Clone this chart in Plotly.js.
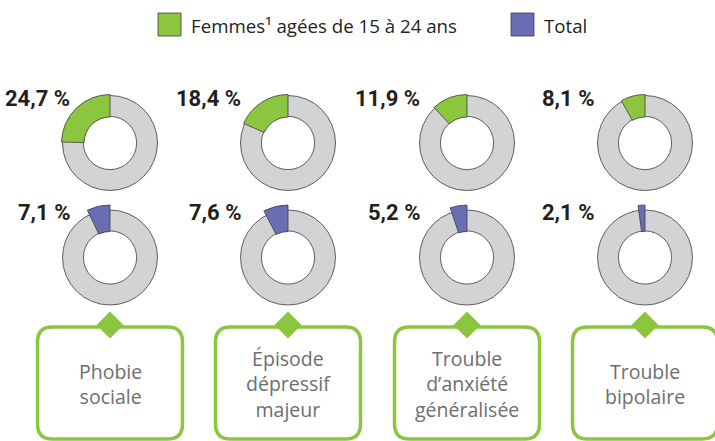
<!DOCTYPE html>
<html>
<head>
<meta charset="utf-8">
<script src="https://cdn.plot.ly/plotly-3.0.1.min.js"></script>
<style>
  html, body { margin: 0; padding: 0; background: #ffffff; }
  #chart { width: 715px; height: 441px; }
</style>
</head>
<body>
<div id="chart"></div>
<script>
// ---------------- DATA ----------------
const categories = ['Phobie sociale', 'Épisode dépressif majeur', 'Trouble d’anxiété généralisée', 'Trouble bipolaire'];
const categoryLines = [['Phobie', 'sociale'], ['Épisode', 'dépressif', 'majeur'], ['Trouble', 'd’anxiété', 'généralisée'], ['Trouble', 'bipolaire']];
const seriesNames = ['Femmes¹ agées de 15 à 24 ans', 'Total'];
const femmes = [24.7, 18.4, 11.9, 8.1];
const total = [7.1, 7.6, 5.2, 2.1];

// ---------------- STYLE / LAYOUT CONSTANTS ----------------
const W = 715, H = 441;
const GREEN = '#8cc63f', BLUE = '#696db3', GRAY = '#d1d3d4', EDGE = '#3c3c3c';
const TEXT_GRAY = '#6d6e71', DARK = '#231f20';
const colCenters = [110, 288, 467, 645];
const rowCenters = [143, 257.5];
const labelOffsets = [-38, -45, -45, -49];
const seriesColors = [GREEN, BLUE];
const seriesData = [femmes, total];
const ringR = 47.5, ringHole = 26.6;
const sliceR = [48.5, 52.5], sliceHole = 26;

function fmt(v) { return v.toFixed(1).replace('.', ',') + ' %'; }
function domainFor(cx, cy, r) {
  return { x: [(cx - r) / W, (cx + r) / W], y: [1 - (cy + r) / H, 1 - (cy - r) / H] };
}

const traces = [];
const annotations = [];
const shapes = [];

seriesData.forEach((series, si) => {
  series.forEach((v, ci) => {
    const cx = colCenters[ci], cy = rowCenters[si];
    // background ring
    traces.push({
      type: 'pie', values: [100], labels: ['reste'], sort: false,
      marker: { colors: [GRAY], line: { color: EDGE, width: 0.8 } },
      hole: ringHole / ringR, domain: domainFor(cx, cy, ringR),
      textinfo: 'none', hoverinfo: 'skip', showlegend: false
    });
    // highlighted slice (last slice, ending at 12 o'clock, drawn clockwise)
    traces.push({
      type: 'pie', values: [100 - v, v], labels: ['reste', seriesNames[si]],
      sort: false, direction: 'clockwise', rotation: 0,
      marker: { colors: ['rgba(0,0,0,0)', seriesColors[si]],
                line: { color: ['rgba(0,0,0,0)', EDGE], width: 0.8 } },
      hole: sliceHole / sliceR[si], domain: domainFor(cx, cy, sliceR[si]),
      textinfo: 'none', hoverinfo: 'skip', showlegend: false
    });
    annotations.push({
      x: cx + labelOffsets[ci], y: cy - 45, xref: 'x', yref: 'y',
      xanchor: 'right', yanchor: 'middle', showarrow: false,
      text: '<b>' + fmt(v) + '</b>',
      font: { family: 'Roboto, sans-serif', size: 22, color: DARK }
    });
  });
});

// category boxes
categoryLines.forEach((lines, ci) => {
  const cx = colCenters[ci];
  const x0 = cx - 72.5, x1 = cx + 72.5, y0 = 327, y1 = 439, r = 15;
  shapes.push({
    type: 'path', xref: 'x', yref: 'y',
    path: `M ${x0 + r},${y0} L ${x1 - r},${y0} Q ${x1},${y0} ${x1},${y0 + r} L ${x1},${y1 - r} Q ${x1},${y1} ${x1 - r},${y1} L ${x0 + r},${y1} Q ${x0},${y1} ${x0},${y1 - r} L ${x0},${y0 + r} Q ${x0},${y0} ${x0 + r},${y0} Z`,
    line: { color: GREEN, width: 3.5 }, fillcolor: 'rgba(0,0,0,0)'
  });
  shapes.push({
    type: 'path', xref: 'x', yref: 'y',
    path: `M ${cx},311.5 L ${cx + 13.5},325 L ${cx},338.5 L ${cx - 13.5},325 Z`,
    line: { width: 0 }, fillcolor: GREEN
  });
  annotations.push({
    x: cx, y: 384, xref: 'x', yref: 'y',
    xanchor: 'center', yanchor: 'middle', showarrow: false,
    text: lines.join('<br>'), align: 'center',
    font: { family: 'Open Sans, sans-serif', size: 19.5, color: TEXT_GRAY }
  });
});

// legend
const legendItems = [{ x: 158 }, { x: 511 }];
seriesNames.forEach((name, si) => {
  const lx = legendItems[si].x;
  shapes.push({
    type: 'rect', xref: 'x', yref: 'y', x0: lx, x1: lx + 23, y0: 13, y1: 36,
    fillcolor: seriesColors[si], line: { color: EDGE, width: 0.8 }
  });
  annotations.push({
    x: lx + 31, y: 25, xref: 'x', yref: 'y', xanchor: 'left', yanchor: 'middle',
    showarrow: false, text: name,
    font: { family: 'Open Sans, sans-serif', size: 18.7, color: DARK }
  });
});

const layout = {
  width: W, height: H, margin: { l: 0, r: 0, t: 0, b: 0 },
  paper_bgcolor: '#ffffff', plot_bgcolor: 'rgba(0,0,0,0)',
  xaxis: { range: [0, W], visible: false, fixedrange: true },
  yaxis: { range: [H, 0], visible: false, fixedrange: true },
  showlegend: false, shapes: shapes, annotations: annotations
};

Plotly.newPlot('chart', traces, layout, { staticPlot: true, displayModeBar: false });
</script>
</body>
</html>
